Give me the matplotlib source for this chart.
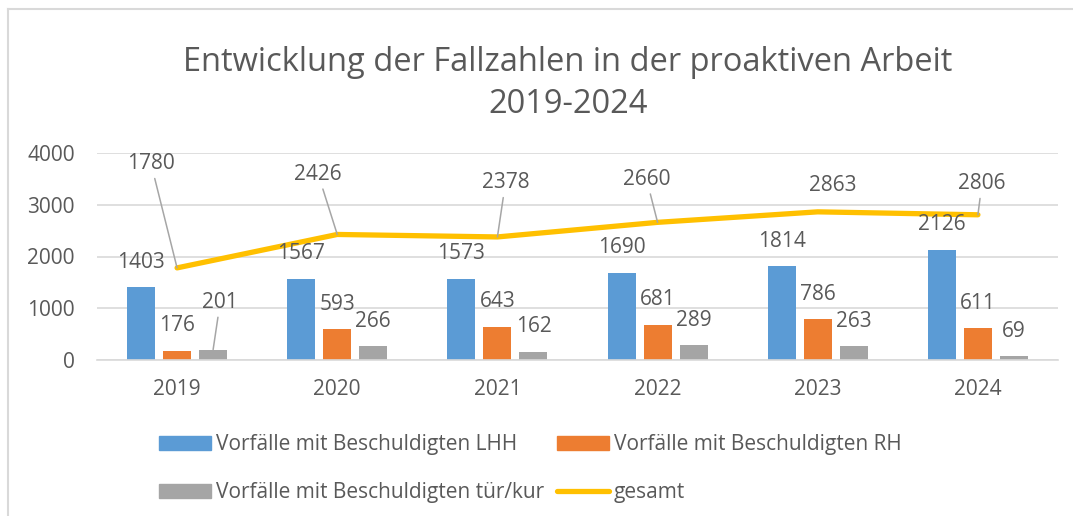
import matplotlib
matplotlib.use('Agg')
import matplotlib.pyplot as plt
import numpy as np
from matplotlib.patches import Patch
from matplotlib.lines import Line2D

# ---- data ----
years = ['2019', '2020', '2021', '2022', '2023', '2024']
lhh = [1403, 1567, 1573, 1690, 1814, 2126]
rh = [176, 593, 643, 681, 786, 611]
turkur = [201, 266, 162, 289, 263, 69]
gesamt = [1780, 2426, 2378, 2660, 2863, 2806]
series_names = ['Vorfälle mit Beschuldigten LHH', 'Vorfälle mit Beschuldigten RH',
                'Vorfälle mit Beschuldigten tür/kur', 'gesamt']
title = 'Entwicklung der Fallzahlen in der proaktiven Arbeit\n2019-2024'

# ---- style ----
plt.rcParams['font.family'] = ['Open Sans', 'DejaVu Sans']
TXT = '#595959'
GRID = '#d9d9d9'
C_LHH, C_RH, C_TK, C_G = '#5B9BD5', '#ED7D31', '#A5A5A5', '#FFC000'
FS = 15

W, H = 1073, 516
fig = plt.figure(figsize=(W / 100, H / 100), dpi=100)
ax = fig.add_axes([97 / W, 1 - 360 / H, (1058 - 97) / W, (360 - 153) / H])

x = np.arange(len(years))
bw = 28 / 160
step = 36 / 160
ax.bar(x - step, lhh, bw, color=C_LHH, zorder=2)
ax.bar(x, rh, bw, color=C_RH, zorder=2)
ax.bar(x + step, turkur, bw, color=C_TK, zorder=2)
ax.plot(x, gesamt, color=C_G, lw=3.8, solid_capstyle='round', zorder=3)

ax.set_xlim(-0.5, len(years) - 0.5)
ax.set_ylim(0, 4000)
ax.set_yticks([0, 1000, 2000, 3000, 4000])
ax.set_xticks(x)
ax.set_xticklabels(years)
ax.grid(axis='y', color=GRID, lw=1.2, zorder=0)
for s in ['top', 'right', 'left']:
    ax.spines[s].set_visible(False)
ax.spines['bottom'].set_color(GRID)
ax.spines['bottom'].set_linewidth(1.2)
ax.tick_params(axis='both', length=0, labelsize=FS, labelcolor=TXT)
ax.tick_params(axis='y', pad=16)
ax.tick_params(axis='x', pad=14)

leader = dict(arrowstyle='-', color='#a6a6a6', lw=1.1, shrinkA=1, shrinkB=0)

def lab(xv, yv, txt, dx, dy, lead=False):
    ax.annotate(txt, (xv, yv), xytext=(dx, dy), textcoords='offset pixels',
                ha='center', va='center', fontsize=FS, color=TXT,
                arrowprops=leader if lead else None, zorder=4)

for i in range(len(years)):
    lab(x[i] - step, lhh[i], str(lhh[i]), 0, 25)
    lab(x[i], rh[i], str(rh[i]), 0, 25)
tk_off = [(7, 47, True), (0, 25, False), (0, 25, False), (0, 25, False), (0, 25, False), (0, 25, False)]
for i in range(len(years)):
    dx, dy, ld = tk_off[i]
    lab(x[i] + step, turkur[i], str(turkur[i]), dx, dy, ld)
g_off = [(-26, 104, True), (-19, 60, True), (8, 54, True), (-11, 43, True), (15, 26, False), (4, 31, True)]
for i in range(len(years)):
    dx, dy, ld = g_off[i]
    lab(x[i], gesamt[i], str(gesamt[i]), dx, dy, ld)

handles = [Patch(color=C_LHH), Patch(color=C_TK), Patch(color=C_RH),
           Line2D([], [], color=C_G, lw=3.8, solid_capstyle='round')]
labels = [series_names[0], series_names[2], series_names[1], series_names[3]]
fig.legend(handles, labels, ncol=2, loc='upper left',
           bbox_to_anchor=(159 / W, 1 - 434 / H), frameon=False,
           fontsize=FS, labelcolor=TXT, handlelength=2.5, handleheight=0.67,
           handletextpad=0.24, columnspacing=0.6, labelspacing=1.3,
           borderaxespad=0, borderpad=0)

fig.text(568 / W, 1 - 83 / H, title, ha='center', va='center', fontsize=23.5,
         color=TXT, linespacing=1.36)

# chart frame (left and top visible)
fig.add_artist(Line2D([8 / W, 8 / W], [0, 1 - 9 / H], color=GRID, lw=1.5))
fig.add_artist(Line2D([8 / W, 1], [1 - 9 / H, 1 - 9 / H], color=GRID, lw=1.5))

fig.savefig('out.png', dpi=100, facecolor='white')
